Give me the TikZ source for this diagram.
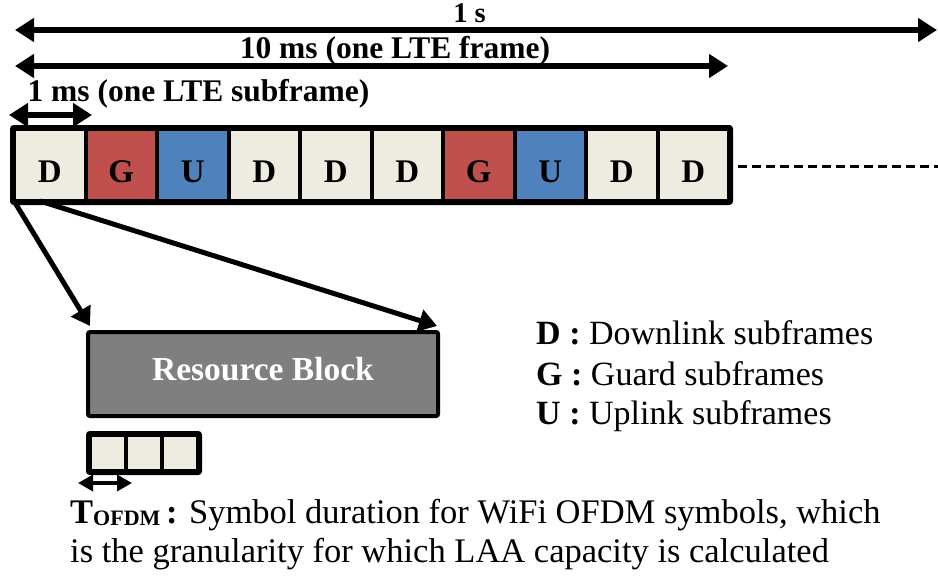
\documentclass[tikz,border=0pt]{standalone}
\usepackage{fontspec}
\setmainfont{Liberation Serif}
\usetikzlibrary{arrows.meta}

\definecolor{cellD}{HTML}{EEECE1}
\definecolor{cellG}{HTML}{C0504D}
\definecolor{cellU}{HTML}{4F81BD}
\definecolor{rbgray}{HTML}{7F7F7F}

\tikzset{
  dimarrow/.style={line width=5.5pt,
    {Triangle[length=19pt,width=23pt]}-{Triangle[length=19pt,width=23pt]}},
  dimlabel/.style={anchor=base, inner sep=0pt,
    font=\fontsize{31.5}{31.5}\selectfont\bfseries},
  subframe/.style={draw=black, line width=4pt, minimum width=71.5pt,
    minimum height=72pt, inner sep=0pt, text height=34pt, text depth=0pt,
    font=\fontsize{33}{33}\selectfont\bfseries},
  dl/.style={subframe, fill=cellD},
  gd/.style={subframe, fill=cellG},
  ul/.style={subframe, fill=cellU},
  zoomarrow/.style={line width=5pt, -{Triangle[length=18pt,width=22pt]}},
  symcell/.style={draw=black, line width=4pt, fill=cellD, minimum width=36pt,
    minimum height=36pt, inner sep=0pt},
  legend/.style={anchor=base west, inner sep=0pt,
    font=\fontsize{34}{34}\selectfont},
  noteline/.style={anchor=base west, inner sep=0pt,
    font=\fontsize{34.5}{34.5}\selectfont},
}

\begin{document}
\begin{tikzpicture}[x=1pt, y=-1pt]
  \useasboundingbox (0,0) rectangle (938,584);

  % time scales
  \coordinate (secL) at (15,30);
  \coordinate (secR) at (937,30);
  \coordinate (frmL) at (15,66);
  \coordinate (frmR) at (728,66);
  \coordinate (subL) at (9,115);
  \coordinate (subR) at (92,115);
  \draw[dimarrow] (secL) -- (secR);
  \draw[dimarrow] (frmL) -- (frmR);
  \draw[dimarrow] (subL) -- (subR);
  \node[dimlabel, font=\fontsize{28.5}{28.5}\selectfont\bfseries] (secT) at (469.5,22.7) {1 s};
  \node[dimlabel] (frmT) at (395,58) {10 ms (one LTE frame)};
  \node[dimlabel] (subT) at (198.5,101.7) {1 ms (one LTE subframe)};

  % one LTE frame of ten subframes
  \node[dl] (c1)  at (49.75,165)  {D};
  \node[gd] (c2)  at (121.25,165) {G};
  \node[ul] (c3)  at (192.75,165) {U};
  \node[dl] (c4)  at (264.25,165) {D};
  \node[dl] (c5)  at (335.75,165) {D};
  \node[dl] (c6)  at (407.25,165) {D};
  \node[gd] (c7)  at (478.75,165) {G};
  \node[ul] (c8)  at (550.25,165) {U};
  \node[dl] (c9)  at (621.75,165) {D};
  \node[dl] (c10) at (693.25,165) {D};
  \draw[line width=4pt, rounded corners=2pt] (c1.north west) rectangle (c10.south east);

  % continuation of the frame sequence
  \coordinate (contL) at (738,166);
  \coordinate (contR) at (938,166);
  \draw[line width=3pt, dash pattern=on 9pt off 5pt] (contL) -- (contR);

  % resource block
  \node[draw=black, line width=4pt, fill=rbgray, rounded corners=2pt,
        minimum width=350pt, minimum height=84pt, inner sep=0pt,
        text height=13.4pt, text depth=0pt, text=white,
        font=\fontsize{33.5}{33.5}\selectfont\bfseries]
        (rb) at (263,374) {Resource Block};

  \coordinate (zA) at (14,201);
  \coordinate (zB) at (40,201);
  \coordinate (zAend) at (90,326);
  \coordinate (zBend) at (437,326);
  \draw[zoomarrow] (zA) -- (zAend);
  \draw[zoomarrow] (zB) -- (zBend);

  % OFDM symbols
  \node[symcell] (s1) at (108,453) {};
  \node[symcell] (s2) at (144,453) {};
  \node[symcell] (s3) at (180,453) {};
  \draw[line width=4pt, rounded corners=2pt] (s1.north west) rectangle (s3.south east);

  \coordinate (tL) at (78,483);
  \coordinate (tR) at (132,483);
  \draw[line width=3.5pt, {Triangle[length=15pt,width=16pt]}-{Triangle[length=15pt,width=16pt]}] (tL) -- (tR);

  % legend
  \node[legend] (lgD) at (536,344) {\textbf{D :} Downlink subframes};
  \node[legend] (lgG) at (536,385) {\textbf{G :} Guard subframes};
  \node[legend] (lgU) at (536,424) {\textbf{U :} Uplink subframes};

  % note on the symbol duration
  \node[noteline] (note1) at (70,523)
    {\textbf{T\raisebox{-2pt}{\fontsize{22}{22}\selectfont OFDM}\,:} Symbol duration for WiFi OFDM symbols, which};
  \node[noteline] (note2) at (70,562)
    {is the granularity for which LAA capacity is calculated};
\end{tikzpicture}
\end{document}
